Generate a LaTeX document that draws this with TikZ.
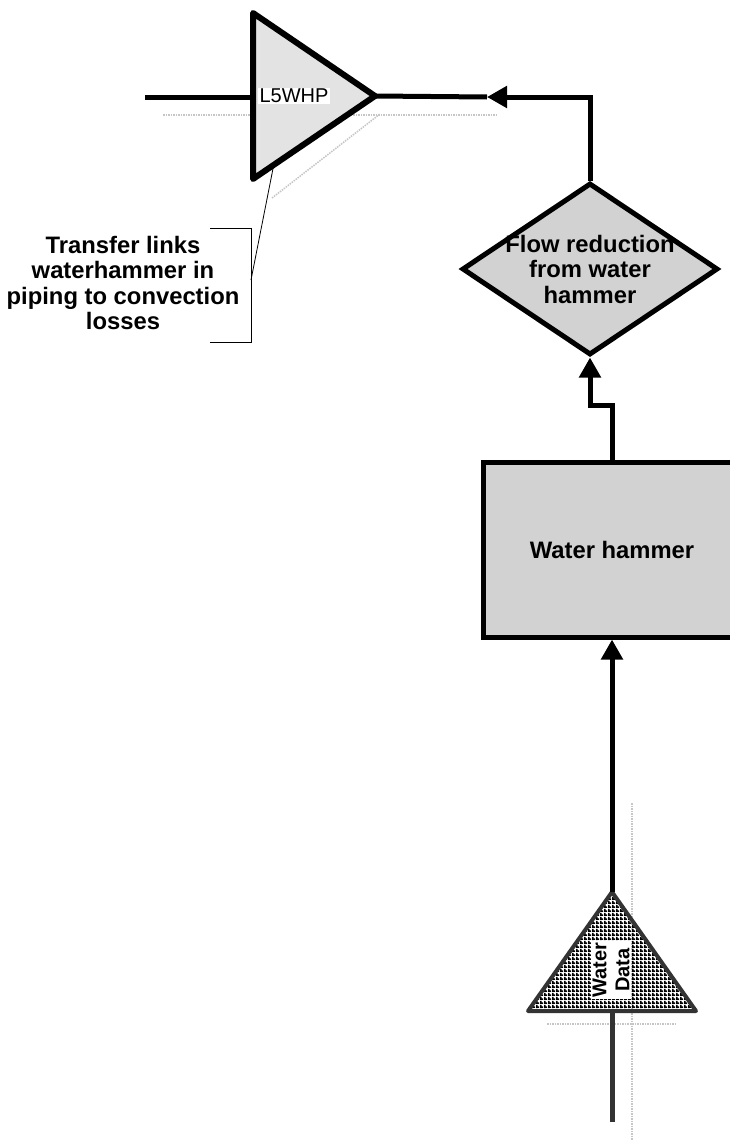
\documentclass[tikz,border=0pt]{standalone}
\usepackage{fontspec}
\setmainfont{Liberation Sans}
\usetikzlibrary{positioning, arrows.meta, shapes.geometric, patterns, calc}
\tikzstyle{pipe}=[line width=5pt]
\tikzstyle{block}=[draw, line width=5pt, fill=gray!35, rectangle, inner sep=0pt]
\tikzstyle{tri}=[draw, line width=6pt, line join=round, isosceles triangle, isosceles triangle stretches, inner sep=0pt, outer sep=0pt]
\tikzstyle{tag}=[fill=white, inner sep=1.5pt]
\tikzstyle{callout}=[line width=0.8pt]
\tikzstyle{shadowline}=[gray!45, line width=1.5pt, densely dotted]
\tikzstyle{every node}=[font=\fontsize{23.8}{25.5}\selectfont\bfseries]
\pgfdeclarepatternformonly{waterhatch}{\pgfpointorigin}{\pgfpoint{4pt}{4pt}}{\pgfpoint{4pt}{4pt}}%
  {\pgfpathrectangle{\pgfpointorigin}{\pgfpoint{4pt}{2pt}}%
   \pgfpathrectangle{\pgfpointorigin}{\pgfpoint{2pt}{4pt}}\pgfusepath{fill}}

\begin{document}
\begin{tikzpicture}[x=1pt, y=-1pt, >={Triangle[length=20pt, width=21pt]}]
    \useasboundingbox (0,0) rectangle (730,1140);
    \clip (0,0) rectangle (730,1140);
    % shadows
    \draw[shadowline] (163,115) -- (497,115);
    \draw[shadowline] (272,198) -- (380,114);
    \draw[shadowline] (632,803) -- (632,1140);
    \draw[shadowline] (547,1024) -- (677,1024);
    % transfer
    \coordinate (l5in) at (145,97);
    \draw[pipe] (l5in) -- (253,97);
    \node[tri, fill=gray!22, anchor=apex, minimum width=166pt, minimum height=122pt] (l5whp) at (375,96) {};
    \node[tag, font=\fontsize{20}{22}\selectfont] (l5label) at (294,96) {L5WHP};
    % flow reduction
    \node[diamond, draw, line width=5pt, fill=gray!35, inner sep=0pt, minimum width=256pt, minimum height=172pt] (flow) at (590,269) {};
    \node[align=center] (flowtext) at (flow.center) {Flow reduction\\from water\\hammer};
    \coordinate (l5head) at (487,97);
    \draw[pipe, ->] (flow.north) |- (l5head);
    \draw[pipe] (l5head) -- (l5whp.apex);
    % water hammer
    \node[block, minimum width=258pt, minimum height=175pt] (hammer) at (612,549.5) {Water hammer};
    \draw[pipe, ->] (hammer.north) -- ++(0,-54) -| (flow.south);
    % water data
    \coordinate (wsource) at (612,1122);
    \draw[pipe, black!80] (wsource) -- (612,1010);
    \node[tri, draw=black!80, line width=4pt, pattern=waterhatch, anchor=apex, shape border rotate=90, minimum width=168pt, minimum height=119pt] (wdata) at (612,892) {};
    \node[tag, rotate=90, align=center, font=\fontsize{20}{23}\selectfont\bfseries] (wdatatext) at (611,970) {Water\\Data};
    \draw[pipe, ->] (wdata.apex) -- (hammer.south);
    % note
    \node[align=center] (note) at (123,283) {Transfer links\\waterhammer in\\piping to convection\\losses};
    \coordinate (notetop) at (210,228);
    \coordinate (notebot) at (210,342);
    \draw[callout] (notetop) -- ++(41,0) coordinate (notecorner) |- (notebot);
    \draw[callout] (251,280) -- ($(l5whp.right corner)!0.17!(l5whp.apex)$);
\end{tikzpicture}
\end{document}
